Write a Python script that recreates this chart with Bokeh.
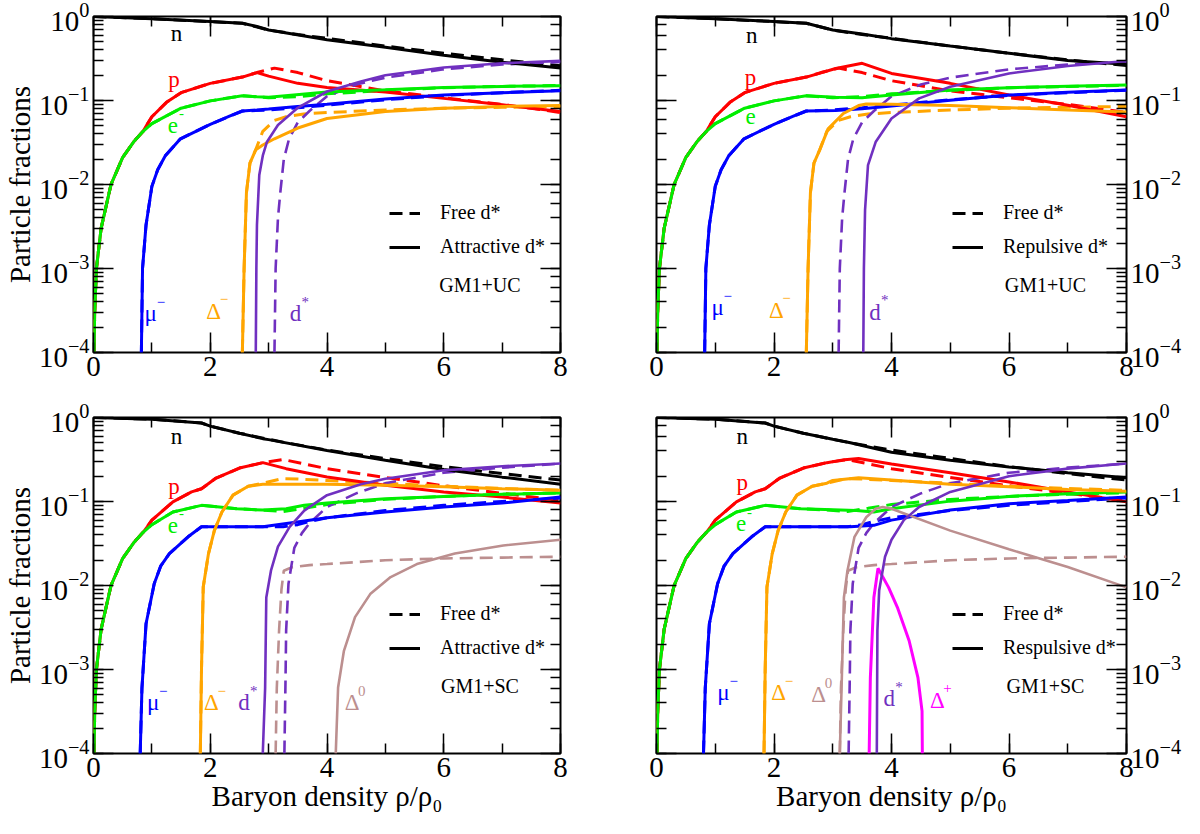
from bokeh.plotting import figure
from bokeh.layouts import column, row
from bokeh.models import (LogAxis, LinearAxis, SingleIntervalTicker, LogTicker,
                          Legend, LegendItem, Label, Range1d, CustomJSTickFormatter)
from bokeh.embed import file_html
from bokeh.resources import INLINE

# ---------------- data ----------------
# leptons at low density (common to every panel)
lep_x = [0.01, 0.02, 0.05, 0.13, 0.3, 0.5, 0.7, 0.85]
lep_y = [1e-4, 3e-4, 1e-3, 3e-3, 1e-2, 0.021, 0.033, 0.043]

# ---- GM1+UC ----
uc_n_early_x = [0, 1, 2, 2.55]
uc_n_early_y = [1.0, 0.94, 0.87, 0.83]
uc_p_early_x = [0.92, 1, 1.25, 1.5, 2, 2.55]
uc_p_early_y = [0.052, 0.064, 0.095, 0.124, 0.16, 0.19]
uc_e_early_x = [1, 1.5, 2, 2.55]
uc_e_early_y = [0.053, 0.081, 0.099, 0.114]
uc_mu_early_x = [0.82, 0.84, 0.9, 1.0, 1.1, 1.23, 1.49, 2, 2.33, 2.55]
uc_mu_early_y = [1e-4, 1e-3, 3.3e-3, 9.5e-3, 0.015, 0.022, 0.035, 0.052, 0.065, 0.075]
uc_dm_early_x = [2.55, 2.58, 2.62, 2.68, 2.78]
uc_dm_early_y = [1e-4, 1e-3, 8e-3, 0.018, 0.026]

# free d* (dashed, both UC panels)
ucf_n_x = uc_n_early_x + [3, 3.5, 4, 5, 6, 7, 8]
ucf_n_y = uc_n_early_y + [0.69, 0.61, 0.55, 0.445, 0.365, 0.305, 0.26]
ucf_p_x = lep_x + uc_p_early_x + [2.8, 3.1, 3.5, 4, 4.5, 5, 6, 7, 8]
ucf_p_y = lep_y + uc_p_early_y + [0.215, 0.243, 0.215, 0.172, 0.15, 0.13, 0.108, 0.09, 0.072]
ucf_e_x = lep_x + uc_e_early_x + [3, 3.5, 4, 5, 6, 7, 8]
ucf_e_y = lep_y + uc_e_early_y + [0.108, 0.111, 0.12, 0.132, 0.142, 0.147, 0.151]
ucf_mu_x = uc_mu_early_x + [3, 3.5, 4, 5, 6, 7, 8]
ucf_mu_y = uc_mu_early_y + [0.077, 0.082, 0.088, 0.102, 0.115, 0.124, 0.132]
ucf_dm_x = uc_dm_early_x + [2.9, 3.1, 3.3, 3.6, 4, 5, 6, 7, 8]
ucf_dm_y = uc_dm_early_y + [0.043, 0.058, 0.064, 0.069, 0.072, 0.077, 0.081, 0.083, 0.085]
ucf_ds_x = [3.1, 3.12, 3.16, 3.2, 3.26, 3.35, 3.5, 3.7, 4, 4.5, 5, 6, 7, 8]
ucf_ds_y = [1e-4, 1e-3, 4e-3, 8e-3, 0.02, 0.035, 0.055, 0.075, 0.112, 0.155, 0.187, 0.235, 0.268, 0.288]

# attractive d* (solid, top left)
uca_n_x = uc_n_early_x + [2.8, 3, 4, 5, 6, 7, 8]
uca_n_y = uc_n_early_y + [0.76, 0.69, 0.53, 0.43, 0.345, 0.285, 0.244]
uca_p_x = lep_x + uc_p_early_x + [2.8, 3, 3.5, 4, 5, 6, 7, 8]
uca_p_y = lep_y + uc_p_early_y + [0.215, 0.195, 0.16, 0.143, 0.126, 0.106, 0.089, 0.074]
uca_e_x = lep_x + uc_e_early_x + [2.8, 3, 4, 5, 6, 7, 8]
uca_e_y = lep_y + uc_e_early_y + [0.111, 0.109, 0.126, 0.134, 0.143, 0.147, 0.15]
uca_mu_x = uc_mu_early_x + [2.8, 3, 3.5, 4, 5, 6, 7, 8]
uca_mu_y = uc_mu_early_y + [0.077, 0.079, 0.085, 0.09, 0.104, 0.116, 0.124, 0.131]
uca_dm_x = uc_dm_early_x + [2.9, 3.1, 3.5, 4, 5, 6, 7, 8]
uca_dm_y = uc_dm_early_y + [0.0295, 0.035, 0.047, 0.061, 0.074, 0.081, 0.085, 0.087]
uca_ds_x = [2.78, 2.79, 2.8, 2.84, 2.9, 2.97, 3.16, 3.49, 4, 4.58, 5, 6, 7, 8]
uca_ds_y = [1e-4, 1e-3, 3.3e-3, 0.013, 0.022, 0.032, 0.051, 0.081, 0.128, 0.168, 0.2, 0.247, 0.278, 0.296]

# repulsive d* (solid, top right)
ucr_n_x = uc_n_early_x + [3, 3.5, 4, 5, 6, 7, 8]
ucr_n_y = uc_n_early_y + [0.69, 0.62, 0.545, 0.445, 0.365, 0.30, 0.27]
ucr_p_x = lep_x + uc_p_early_x + [3.05, 3.5, 4, 5, 6, 7, 8]
ucr_p_y = lep_y + uc_p_early_y + [0.24, 0.277, 0.21, 0.16, 0.116, 0.088, 0.064]
ucr_e_x = lep_x + uc_e_early_x + [3.05, 3.5, 4, 5, 6, 7, 8]
ucr_e_y = lep_y + uc_e_early_y + [0.109, 0.108, 0.116, 0.133, 0.142, 0.148, 0.153]
ucr_mu_x = uc_mu_early_x + [3.05, 3.5, 4, 5, 6, 7, 8]
ucr_mu_y = uc_mu_early_y + [0.076, 0.08, 0.086, 0.101, 0.116, 0.125, 0.133]
ucr_dm_x = uc_dm_early_x + [2.92, 3.18, 3.44, 3.57, 4, 5, 6, 7, 8]
ucr_dm_y = uc_dm_early_y + [0.046, 0.07, 0.087, 0.091, 0.09, 0.087, 0.082, 0.077, 0.073]
ucr_ds_x = [3.52, 3.53, 3.55, 3.6, 3.73, 4, 4.47, 5, 6, 7, 8]
ucr_ds_y = [1e-4, 1e-3, 5e-3, 0.017, 0.032, 0.061, 0.106, 0.146, 0.21, 0.257, 0.295]

# ---- GM1+SC ----
sc_n_early_x = [0, 1, 1.85, 2, 2.5]
sc_n_early_y = [1.0, 0.955, 0.86, 0.79, 0.65]
sc_p_early_x = [0.92, 1, 1.36, 1.68, 1.85, 2.1, 2.5, 2.9]
sc_p_early_y = [0.05, 0.06, 0.099, 0.13, 0.142, 0.19, 0.25, 0.29]
sc_e_early_x = [1, 1.36, 1.85, 2.46]
sc_e_early_y = [0.053, 0.075, 0.09, 0.082]
sc_mu_early_x = [0.8, 0.83, 0.9, 1.04, 1.15, 1.3, 1.62, 1.85, 2, 2.9]
sc_mu_early_y = [1e-4, 6e-4, 3.5e-3, 0.0105, 0.017, 0.024, 0.038, 0.05, 0.05, 0.05]
sc_dm_early_x = [1.83, 1.85, 1.88, 1.97, 2.07, 2.2, 2.39, 2.65]
sc_dm_early_y = [1e-4, 1e-3, 0.0096, 0.024, 0.045, 0.075, 0.119, 0.152]

# free d* (dashed, both SC panels)
scf_n_x = sc_n_early_x + [3, 3.3, 4, 5, 6, 7, 8]
scf_n_y = sc_n_early_y + [0.55, 0.5, 0.41, 0.325, 0.26, 0.215, 0.18]
scf_p_x = lep_x + sc_p_early_x + [3.25, 4, 5, 6, 7, 8]
scf_p_y = lep_y + sc_p_early_y + [0.316, 0.246, 0.193, 0.154, 0.125, 0.103]
scf_e_x = lep_x + sc_e_early_x + [2.9, 3.25, 3.6, 4, 5, 6, 7, 8]
scf_e_y = lep_y + sc_e_early_y + [0.079, 0.076, 0.083, 0.092, 0.106, 0.115, 0.122, 0.127]
scf_mu_x = sc_mu_early_x + [3.25, 3.5, 3.7, 4, 5, 6, 7, 8]
scf_mu_y = sc_mu_early_y + [0.05, 0.053, 0.058, 0.064, 0.078, 0.09, 0.1, 0.11]
scf_dm_x = sc_dm_early_x + [2.9, 3.23, 3.5, 4, 5, 6, 7, 8]
scf_dm_y = sc_dm_early_y + [0.165, 0.187, 0.185, 0.178, 0.165, 0.152, 0.143, 0.136]
scf_ds_x = [3.27, 3.29, 3.3, 3.34, 3.44, 3.57, 3.7, 4, 4.5, 5, 6, 7, 8]
scf_ds_y = [1e-4, 8e-4, 2.9e-3, 0.0105, 0.028, 0.042, 0.055, 0.086, 0.125, 0.165, 0.22, 0.253, 0.283]
scf_d0_x = [3.12, 3.14, 3.18, 3.22, 3.26, 3.4, 3.7, 4, 5, 6, 7, 8]
scf_d0_y = [1e-4, 6e-4, 3e-3, 9e-3, 0.015, 0.0165, 0.0175, 0.018, 0.02, 0.021, 0.0215, 0.022]

# attractive d* (solid, bottom left)
sca_n_x = sc_n_early_x + [2.9, 3, 4, 5, 6, 7, 8]
sca_n_y = sc_n_early_y + [0.56, 0.545, 0.405, 0.31, 0.24, 0.195, 0.16]
sca_p_x = lep_x + sc_p_early_x + [3.3, 4, 5, 6, 7, 8]
sca_p_y = lep_y + sc_p_early_y + [0.246, 0.196, 0.156, 0.13, 0.113, 0.096]
sca_e_x = lep_x + sc_e_early_x + [2.9, 3.3, 3.61, 4, 5, 6, 7, 8]
sca_e_y = lep_y + sc_e_early_y + [0.079, 0.082, 0.09, 0.096, 0.108, 0.115, 0.122, 0.126]
sca_mu_x = sc_mu_early_x + [3.49, 4, 5, 6, 7, 8]
sca_mu_y = sc_mu_early_y + [0.057, 0.064, 0.075, 0.086, 0.096, 0.113]
sca_dm_x = sc_dm_early_x + [2.9, 3, 4, 5, 6, 7, 8]
sca_dm_y = sc_dm_early_y + [0.16, 0.16, 0.16, 0.156, 0.15, 0.142, 0.136]
sca_ds_x = [2.9, 2.94, 2.96, 3.04, 3.16, 3.36, 3.61, 4, 4.58, 5, 6, 7, 8]
sca_ds_y = [1e-4, 6e-4, 7.2e-3, 0.015, 0.029, 0.05, 0.078, 0.119, 0.16, 0.187, 0.235, 0.263, 0.283]
sca_d0_x = [4.15, 4.19, 4.29, 4.48, 4.74, 5.09, 5.54, 6.19, 7.02, 8]
sca_d0_y = [1e-4, 6.1e-4, 1.67e-3, 4.2e-3, 7.9e-3, 0.0126, 0.018, 0.024, 0.03, 0.035]

# repulsive d* (solid, bottom right)
scr_n_x = sc_n_early_x + [3, 3.3, 3.7, 4, 5, 6, 7, 8]
scr_n_y = sc_n_early_y + [0.55, 0.5, 0.43, 0.385, 0.31, 0.258, 0.22, 0.192]
scr_p_x = lep_x + sc_p_early_x + [3.2, 3.44, 4, 5, 6, 7, 8]
scr_p_y = lep_y + sc_p_early_y + [0.315, 0.325, 0.28, 0.22, 0.171, 0.13, 0.099]
scr_e_x = lep_x + sc_e_early_x + [3, 3.4, 3.7, 4, 5, 6, 7, 8]
scr_e_y = lep_y + sc_e_early_y + [0.08, 0.078, 0.075, 0.082, 0.101, 0.115, 0.124, 0.13]
scr_mu_x = sc_mu_early_x + [3.3, 3.7, 4, 5, 6, 7, 8]
scr_mu_y = sc_mu_early_y + [0.05, 0.052, 0.06, 0.079, 0.094, 0.103, 0.113]
scr_dm_x = sc_dm_early_x + [2.9, 3.0, 3.44, 4, 5, 6, 7, 8]
scr_dm_y = sc_dm_early_y + [0.165, 0.178, 0.192, 0.18, 0.16, 0.15, 0.139, 0.132]
scr_ds_x = [3.75, 3.76, 3.79, 3.89, 4, 4.21, 4.47, 5, 6, 7, 8]
scr_ds_y = [1e-4, 2.9e-3, 8.7e-3, 0.022, 0.035, 0.06, 0.086, 0.13, 0.2, 0.246, 0.283]
scr_d0_x = [3.12, 3.15, 3.19, 3.25, 3.37, 3.57, 3.73, 3.85, 4, 5, 6, 7, 8]
scr_d0_y = [1e-4, 6e-4, 7.2e-3, 0.015, 0.038, 0.065, 0.082, 0.086, 0.082, 0.045, 0.027, 0.0166, 0.0095]
scr_dp_x = [3.62, 3.64, 3.70, 3.77, 3.95, 4.1, 4.3, 4.45, 4.52, 4.525]
scr_dp_y = [1e-4, 8e-4, 7.2e-3, 0.016, 0.0095, 0.0055, 0.0022, 8e-4, 3.2e-4, 1e-4]

# ---------------- styling ----------------
FONT = "Liberation Serif"
COL = {"n": "black", "p": "#ff0000", "e": "#00ee00", "mu": "#0000ff",
       "dm": "#ffa500", "ds": "#7030c0", "d0": "#bc8f8f", "dp": "#ff00ff"}
WID = {"n": 3, "p": 3, "e": 3, "mu": 3, "dm": 3, "ds": 2.6, "d0": 2.6, "dp": 3}
DASH = "13 7"
BLANK = CustomJSTickFormatter(code="return ''")


def style_axis(ax, show):
    ax.axis_line_color = None
    ax.major_tick_in = 20
    ax.major_tick_out = 0
    ax.minor_tick_in = 10
    ax.minor_tick_out = 0
    ax.major_tick_line_color = "black"
    ax.minor_tick_line_color = "black"
    ax.major_tick_line_width = 1.5
    ax.minor_tick_line_width = 1.5
    ax.major_label_text_font = FONT
    ax.major_label_text_color = "black"
    ax.major_label_text_font_size = "29px"
    ax.major_label_standoff = 4
    ax.axis_label_text_font = FONT
    ax.axis_label_text_font_size = "29px"
    ax.axis_label_text_font_style = "normal"
    ax.axis_label_text_color = "black"
    ax.axis_label_standoff = 0
    if not show:
        ax.formatter = BLANK
        ax.major_label_standoff = 0


def panel(solid, free, legend_word, model, labels, right_side, bottom_row,
          width, height, borders):
    p = figure(width=width, height=height, x_range=Range1d(0, 8),
               y_range=Range1d(1e-4, 1), y_axis_type="log",
               y_axis_location="right" if right_side else "left",
               output_backend="svg", toolbar_location=None, tools="",
               min_border_left=borders[0], min_border_right=borders[1],
               min_border_top=borders[2], min_border_bottom=borders[3])
    p.grid.visible = False
    p.outline_line_color = "black"
    p.outline_line_width = 2
    p.background_fill_color = "white"
    p.border_fill_color = "white"

    xax = p.below[0]
    yax = p.right[0] if right_side else p.left[0]
    xax.ticker = SingleIntervalTicker(interval=2, num_minor_ticks=2)
    style_axis(xax, True)
    style_axis(yax, True)
    top = LinearAxis(ticker=SingleIntervalTicker(interval=2, num_minor_ticks=2))
    style_axis(top, False)
    p.add_layout(top, "above")
    other = LogAxis(ticker=LogTicker())
    style_axis(other, False)
    p.add_layout(other, "left" if right_side else "right")

    if not right_side:
        yax.axis_label = "Particle fractions"
    if bottom_row:
        xax.axis_label = "Baryon density ρ/ρ₀"

    rs = {}
    rf = {}
    for key, (xs, ys) in free.items():
        rf[key] = p.line(xs, ys, line_color=COL[key], line_width=WID[key],
                         line_dash=DASH)
    for key, (xs, ys) in solid.items():
        rs[key] = p.line(xs, ys, line_color=COL[key], line_width=WID[key])

    leg = Legend(items=[LegendItem(label="Free d*", renderers=[rf["n"]]),
                        LegendItem(label=legend_word + " d*", renderers=[rs["n"]])],
                 location=(296, 94), padding=0, margin=0, spacing=11,
                 glyph_width=31, glyph_height=20, label_height=20,
                 label_standoff=20, border_line_color=None,
                 background_fill_alpha=0, label_text_font=FONT,
                 label_text_font_size="20px", label_text_color="black")
    p.add_layout(leg)
    p.add_layout(Label(x=6.62, y=6.3e-4, text=model, text_align="center",
                       text_baseline="middle", text_font=FONT,
                       text_font_size="20px", text_color="black"))

    for (lx, ly, base, sup, key) in labels:
        p.add_layout(Label(x=lx, y=ly, text=base, text_align="center",
                           text_baseline="middle", text_font=FONT,
                           text_font_size="23px", text_color=COL[key]))
        if sup:
            p.add_layout(Label(x=lx, y=ly, text=sup, text_align="left",
                               text_baseline="middle", x_offset=6, y_offset=12,
                               text_font=FONT, text_font_size="15px",
                               text_color=COL[key]))
    return p


uc_free = {"n": (ucf_n_x, ucf_n_y), "p": (ucf_p_x, ucf_p_y), "e": (ucf_e_x, ucf_e_y),
           "mu": (ucf_mu_x, ucf_mu_y), "dm": (ucf_dm_x, ucf_dm_y), "ds": (ucf_ds_x, ucf_ds_y)}
uc_att = {"n": (uca_n_x, uca_n_y), "p": (uca_p_x, uca_p_y), "e": (uca_e_x, uca_e_y),
          "mu": (uca_mu_x, uca_mu_y), "dm": (uca_dm_x, uca_dm_y), "ds": (uca_ds_x, uca_ds_y)}
uc_rep = {"n": (ucr_n_x, ucr_n_y), "p": (ucr_p_x, ucr_p_y), "e": (ucr_e_x, ucr_e_y),
          "mu": (ucr_mu_x, ucr_mu_y), "dm": (ucr_dm_x, ucr_dm_y), "ds": (ucr_ds_x, ucr_ds_y)}
sc_free = {"n": (scf_n_x, scf_n_y), "p": (scf_p_x, scf_p_y), "e": (scf_e_x, scf_e_y),
           "mu": (scf_mu_x, scf_mu_y), "dm": (scf_dm_x, scf_dm_y), "d0": (scf_d0_x, scf_d0_y),
           "ds": (scf_ds_x, scf_ds_y)}
sc_att = {"n": (sca_n_x, sca_n_y), "p": (sca_p_x, sca_p_y), "e": (sca_e_x, sca_e_y),
          "mu": (sca_mu_x, sca_mu_y), "dm": (sca_dm_x, sca_dm_y), "d0": (sca_d0_x, sca_d0_y),
          "ds": (sca_ds_x, sca_ds_y)}
sc_rep = {"n": (scr_n_x, scr_n_y), "p": (scr_p_x, scr_p_y), "e": (scr_e_x, scr_e_y),
          "mu": (scr_mu_x, scr_mu_y), "dm": (scr_dm_x, scr_dm_y), "d0": (scr_d0_x, scr_d0_y),
          "dp": (scr_dp_x, scr_dp_y), "ds": (scr_ds_x, scr_ds_y)}

lab_tl = [(1.42, 0.63, "n", "", "n"), (1.38, 0.176, "p", "", "p"),
          (1.36, 0.051, "e", "-", "e"), (0.98, 2.9e-4, "μ", "−", "mu"),
          (2.06, 3.1e-4, "Δ", "−", "dm"), (3.46, 2.9e-4, "d", "*", "ds")]
lab_tr = [(1.62, 0.6, "n", "", "n"), (1.6, 0.19, "p", "", "p"),
          (1.6, 0.064, "e", "", "e"), (1.04, 3.4e-4, "μ", "−", "mu"),
          (2.04, 3.2e-4, "Δ", "−", "dm"), (3.72, 3.0e-4, "d", "*", "ds")]
lab_bl = [(1.42, 0.59, "n", "", "n"), (1.38, 0.149, "p", "", "p"),
          (1.36, 0.052, "e", "-", "e"), (1.02, 4e-4, "μ", "−", "mu"),
          (2.02, 4e-4, "Δ", "−", "dm"), (2.58, 4e-4, "d", "*", "ds"),
          (4.43, 4e-4, "Δ", "0", "d0")]
lab_br = [(1.46, 0.59, "n", "", "n"), (1.46, 0.17, "p", "", "p"),
          (1.44, 0.054, "e", "-", "e"), (1.14, 5.3e-4, "μ", "−", "mu"),
          (2.08, 5.3e-4, "Δ", "−", "dm"), (2.76, 5e-4, "Δ", "0", "d0"),
          (3.96, 4.5e-4, "d", "*", "ds"), (4.78, 4.3e-4, "Δ", "+", "dp")]

p1 = panel(uc_att, uc_free, "Attractive", "GM1+UC", lab_tl, False, False,
           616, 401, (84, 56, 16, 49))
p2 = panel(uc_rep, uc_free, "Repulsive", "GM1+UC", lab_tr, True, False,
           568, 401, (40, 52, 16, 49))
p3 = panel(sc_att, sc_free, "Attractive", "GM1+SC", lab_bl, False, True,
           616, 417, (84, 56, 16, 65))
p4 = panel(sc_rep, sc_free, "Respulsive", "GM1+SC", lab_br, True, True,
           568, 417, (40, 52, 16, 65))

layout = column(row(p1, p2), row(p3, p4))
open("out.html", "w").write(file_html(layout, INLINE))
